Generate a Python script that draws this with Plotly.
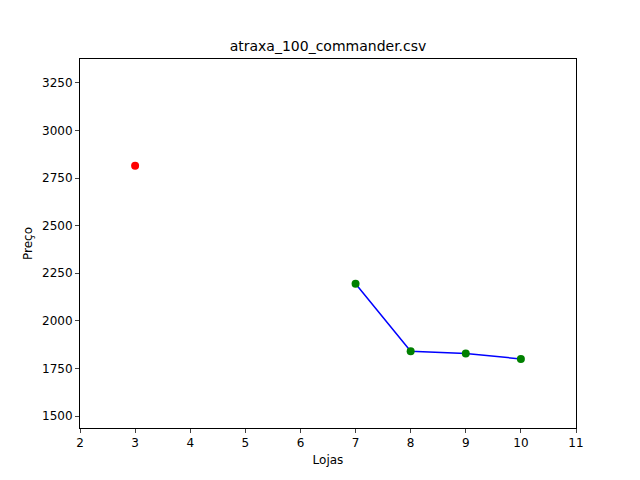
import plotly.graph_objects as go

# valores
lojas_linha = [7, 8, 9, 10]
precos_linha = [2195, 1840, 1828, 1800]
lojas_outlier = [3]
precos_outlier = [2815]

fig = go.Figure()
fig.add_trace(go.Scatter(x=lojas_linha, y=precos_linha, mode="lines",
                         line=dict(color="blue", width=1.5)))
fig.add_trace(go.Scatter(x=lojas_linha, y=precos_linha, mode="markers",
                         marker=dict(color="green", size=8)))
fig.add_trace(go.Scatter(x=lojas_outlier, y=precos_outlier, mode="markers",
                         marker=dict(color="red", size=8)))

axis = dict(showline=True, mirror=True, linecolor="black", linewidth=1,
            ticks="outside", ticklen=4, showgrid=False, zeroline=False,
            tickfont=dict(size=12, color="black"))

fig.update_layout(
    width=640, height=480,
    margin=dict(l=72, r=72, t=51, b=60),
    plot_bgcolor="white", paper_bgcolor="white",
    showlegend=False,
    font=dict(family="DejaVu Sans", color="black"),
    title=dict(text="atraxa_100_commander.csv", x=0.5, xanchor="center",
               y=0.91, yanchor="bottom", font=dict(size=14)),
    xaxis=dict(axis, range=[2, 11], dtick=1,
               title=dict(text="Lojas", font=dict(size=12), standoff=6)),
    yaxis=dict(axis, range=[1437, 3376], tickvals=[1500, 1750, 2000, 2250, 2500, 2750, 3000, 3250],
               title=dict(text="Preço", font=dict(size=12), standoff=6)),
)

fig.write_html("out.html")
